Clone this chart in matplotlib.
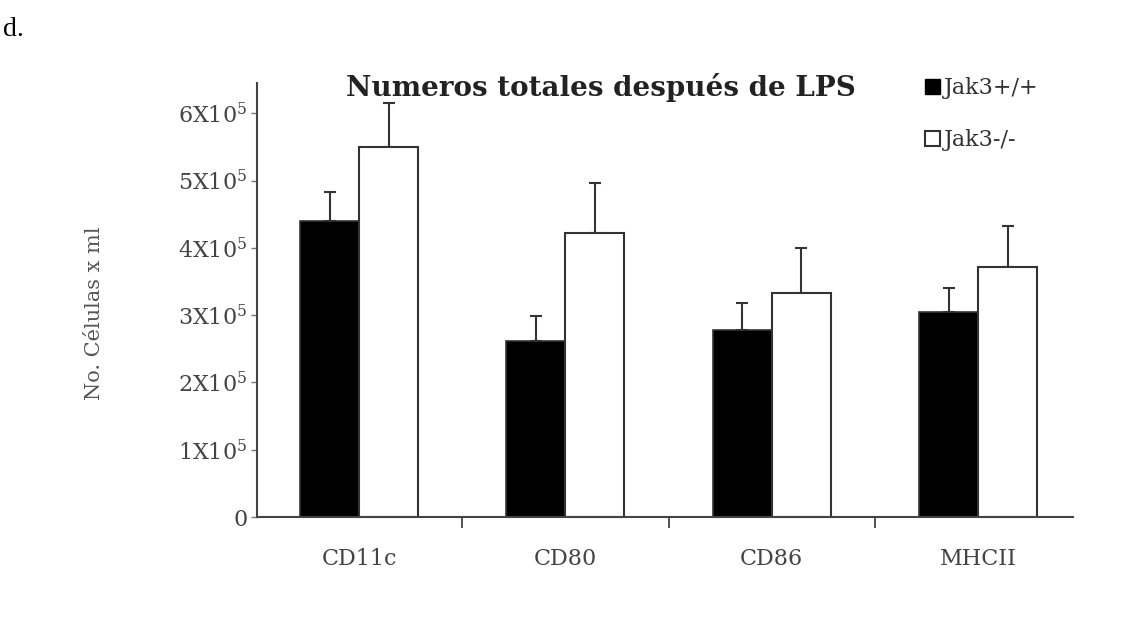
import matplotlib
matplotlib.use("Agg")
import matplotlib.pyplot as plt
import numpy as np
from matplotlib.patches import Patch

categories = ["CD11c", "CD80", "CD86", "MHCII"]
wt_values = [440000, 262000, 278000, 305000]
wt_err = [43000, 37000, 40000, 35000]
ko_values = [550000, 422000, 333000, 371000]
ko_err = [65000, 74000, 67000, 61000]
series_labels = ["Jak3+/+", "Jak3-/-"]
y_ticks = [0, 100000, 200000, 300000, 400000, 500000, 600000]
y_tick_labels = ["0", r"$\mathregular{1X10^5}$", r"$\mathregular{2X10^5}$", r"$\mathregular{3X10^5}$",
                 r"$\mathregular{4X10^5}$", r"$\mathregular{5X10^5}$", r"$\mathregular{6X10^5}$"]
title = "Numeros totales después de LPS"
ylabel = "No. Células x ml"

plt.rcParams['font.family'] = ['DejaVu Serif']
plt.rcParams['mathtext.fontset'] = 'custom'
plt.rcParams['mathtext.rm'] = 'DejaVu Serif'

fig = plt.figure(figsize=(11.25, 6.38), dpi=100)
ax = fig.add_axes([257/1125, 121/638, (1073-257)/1125, (555-121)/638])

x = np.arange(len(categories))
w = 0.286
edge = "#333333"
ax.bar(x - w/2, wt_values, w, color="black", edgecolor=edge, linewidth=1.2, zorder=2)
ax.bar(x + w/2, ko_values, w, color="white", edgecolor=edge, linewidth=1.5, zorder=2)
ax.errorbar(x - w/2, wt_values, yerr=[np.zeros(4), wt_err], fmt="none", ecolor=edge,
            elinewidth=1.5, capsize=4, capthick=1.5, zorder=1)
ax.errorbar(x + w/2, ko_values, yerr=[np.zeros(4), ko_err], fmt="none", ecolor=edge,
            elinewidth=1.5, capsize=4, capthick=1.5, zorder=1)

ax.set_xlim(-0.495, 3.46)
ax.set_ylim(0, 645000)
ax.spines['top'].set_visible(False)
ax.spines['right'].set_visible(False)
for s in ['left', 'bottom']:
    ax.spines[s].set_color("#444444")
    ax.spines[s].set_linewidth(1.5)

ax.set_xticks(x)
ax.set_xticklabels(categories, fontsize=16, color="#444444")
ax.tick_params(axis='x', which='major', length=0, pad=22)
ax.set_xticks([0.5, 1.5, 2.5], minor=True)
ax.tick_params(axis='x', which='minor', length=8, width=1.3, color="#444444", direction='out')

ax.set_yticks(y_ticks)
ax.set_yticklabels(y_tick_labels, fontsize=16, color="#444444")
ax.tick_params(axis='y', length=4, width=1.0, color="#777777", pad=3)

fig.text(94/1125, 1 - 313/638, ylabel, rotation=90, ha='center', va='center',
         fontsize=15, color="#555555")
fig.text(601/1125, 1 - 87/638, title, ha='center', va='center', fontsize=20,
         fontweight='bold', color="#222222")
fig.text(3/1125, 1 - 30/638, "d.", ha='left', va='center', fontsize=20,
         family='Liberation Serif', color="black")

handles = [Patch(facecolor="black", edgecolor="black"),
           Patch(facecolor="white", edgecolor="#333333", linewidth=1.5)]
fig.legend(handles, series_labels, loc='upper left', bbox_to_anchor=(914/1125, 1 - 66/638),
           frameon=False, fontsize=16, handlelength=0.65, handleheight=0.65,
           handletextpad=0.2, labelspacing=1.35, borderpad=0, labelcolor="#333333")

fig.savefig("out.png", dpi=100, facecolor="white")
